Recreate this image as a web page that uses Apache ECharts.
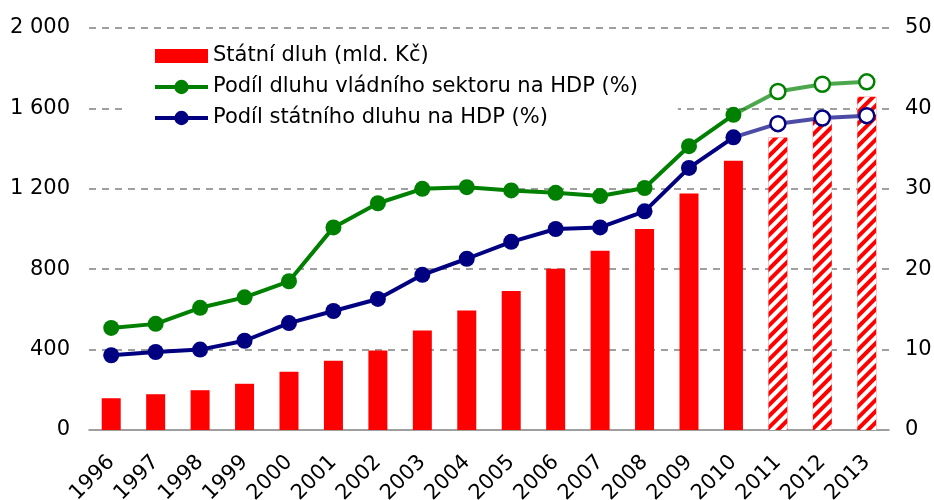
<!DOCTYPE html>
<html>
<head>
<meta charset="utf-8">
<script src="https://cdn.jsdelivr.net/npm/echarts@6/dist/echarts.min.js"></script>
<style>
  html, body { margin: 0; padding: 0; background: #fff; }
  #chart { width: 934px; height: 500px; }
</style>
</head>
<body>
<div id="chart"></div>
<script>
// roky
const years = ["1996","1997","1998","1999","2000","2001","2002","2003","2004",
  "2005","2006","2007","2008","2009","2010","2011","2012","2013"];
// státní dluh v mld. Kč (2011-2013 odhad)
const debt = [158, 178, 198, 230, 290, 345, 395, 495, 595, 692, 802, 892, 1000, 1176, 1340, 1455, 1542, 1658];
const forecastFrom = 15; // index roku 2011
// podíl dluhu vládního sektoru na HDP (%)
const govShare = [12.7, 13.2, 15.2, 16.5, 18.5, 25.2, 28.2, 30.0, 30.2, 29.8, 29.5, 29.1, 30.1, 35.3, 39.2, 42.1, 43.0, 43.3];
// podíl státního dluhu na HDP (%)
const stateShare = [9.3, 9.7, 10.0, 11.1, 13.3, 14.8, 16.3, 19.3, 21.3, 23.4, 25.0, 25.2, 27.2, 32.6, 36.4, 38.1, 38.8, 39.1];
const leftTicks = [0, 400, 800, 1200, 1600, 2000];
const rightTicks = [0, 10, 20, 30, 40, 50];

const names = ["Státní dluh (mld. Kč)", "Podíl dluhu vládního sektoru na HDP (%)", "Podíl státního dluhu na HDP (%)"];
const FONT = "DejaVu Sans";

const hatch = {
  symbol: "rect",
  symbolSize: 1,
  dashArrayX: [1, 0],
  dashArrayY: [3.5, 3.5],
  rotation: -Math.PI / 4,
  color: "#ffffff"
};

const barData = debt.map((v, i) => i >= forecastFrom
  ? { value: v, itemStyle: { decal: hatch } }
  : v);

// skutečnost do 2010, odhad od 2010 dál
const actual = arr => arr.map((v, i) => i < forecastFrom ? v : null);
const forecast = arr => arr.map((v, i) => {
  if (i < forecastFrom - 1) return null;
  if (i === forecastFrom - 1) return { value: v, symbol: "none" };
  return v;
});

const fmtThousands = v => String(v).replace(/\B(?=(\d{3})+(?!\d))/g, " ");

// obdélník v legendě nižší než řádek (drobné body drží rozměr ikony)
const barIcon = "path://M0,0h0.05v0.05h-0.05z M0,2h53v14h-53z M52.95,17.95h0.05v0.05h-0.05z";

const chart = echarts.init(document.getElementById("chart"));
chart.setOption({
  animation: false,
  textStyle: { fontFamily: FONT },
  grid: { left: 89, right: 45, top: 28, bottom: 70, outerBoundsMode: "none" },
  legend: {
    data: [
      { name: names[0], icon: barIcon },
      { name: names[1], lineStyle: { width: 4 } },
      { name: names[2], lineStyle: { width: 4 } }
    ],
    orient: "vertical",
    left: 128,
    top: 40,
    padding: [5, 40, 6, 25],
    backgroundColor: "#ffffff",
    itemWidth: 53,
    itemHeight: 18,
    itemGap: 9,
    textStyle: { fontFamily: FONT, fontSize: 21, color: "#000", lineHeight: 22 }
  },
  xAxis: {
    type: "category",
    data: years,
    axisLine: { lineStyle: { color: "#808080", width: 1.5 } },
    axisTick: { interval: 0, length: 6, lineStyle: { color: "#808080", width: 1.5 } },
    axisLabel: { interval: 0, rotate: 45, margin: 29, fontSize: 21, color: "#000", fontFamily: FONT }
  },
  yAxis: [
    {
      type: "value",
      min: leftTicks[0],
      max: leftTicks[leftTicks.length - 1],
      interval: 400,
      axisLine: { show: false },
      axisTick: { show: false },
      axisLabel: { margin: 19, fontSize: 21, color: "#000", fontFamily: FONT, formatter: fmtThousands },
      splitLine: {
        show: true,
        showMinLine: false,
        lineStyle: { color: "#808080", type: [7, 6], width: 1.5 }
      }
    },
    {
      type: "value",
      min: rightTicks[0],
      max: rightTicks[rightTicks.length - 1],
      interval: 10,
      axisLine: { show: false },
      axisTick: { show: false },
      axisLabel: { margin: 16, fontSize: 21, color: "#000", fontFamily: FONT },
      splitLine: { show: false }
    }
  ],
  series: [
    {
      name: names[0],
      type: "bar",
      data: barData,
      barWidth: 19,
      itemStyle: { color: "#ff0000" },
      z: 1
    },
    {
      name: names[1],
      type: "line",
      yAxisIndex: 1,
      data: actual(govShare),
      symbol: "circle",
      symbolSize: 16,
      lineStyle: { color: "#008000", width: 4 },
      itemStyle: { color: "#008000" },
      z: 3
    },
    {
      name: "govForecast",
      type: "line",
      yAxisIndex: 1,
      data: forecast(govShare),
      symbol: "circle",
      symbolSize: 15,
      lineStyle: { color: "rgba(0,128,0,0.7)", width: 4 },
      itemStyle: { color: "#ffffff", borderColor: "#008000", borderWidth: 2.5 },
      z: 3
    },
    {
      name: names[2],
      type: "line",
      yAxisIndex: 1,
      data: actual(stateShare),
      symbol: "circle",
      symbolSize: 16,
      lineStyle: { color: "#000080", width: 4 },
      itemStyle: { color: "#000080" },
      z: 3
    },
    {
      name: "stateForecast",
      type: "line",
      yAxisIndex: 1,
      data: forecast(stateShare),
      symbol: "circle",
      symbolSize: 15,
      lineStyle: { color: "rgba(0,0,128,0.7)", width: 4 },
      itemStyle: { color: "#ffffff", borderColor: "#000080", borderWidth: 2.5 },
      z: 3
    }
  ]
});
</script>
</body>
</html>
